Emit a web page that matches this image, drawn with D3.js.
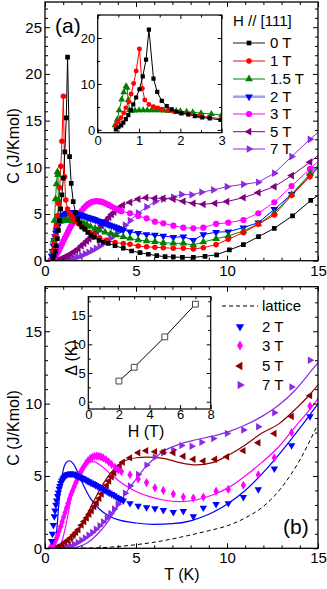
<!DOCTYPE html>
<html><head><meta charset="utf-8">
<script src="https://cdn.jsdelivr.net/npm/d3@7"></script>
<style>body{margin:0;background:#fff}svg{display:block}</style>
</head><body><svg id="c" width="327" height="589"></svg>
<script>
// ---------- DATA ----------
const T0=[0.44,0.50,0.57,0.62,0.68,0.74,0.80,0.86,0.93,1.01,1.09,1.17,1.24,1.35,1.44,1.55,1.67,1.79,1.91,2.03,2.19,2.35,2.53,2.71,2.97,3.2,3.48,3.85,4.3,4.76,5.22,5.68,6.14,6.6,7.05,7.55,8.15,8.79,9.43,10.13,10.9,11.73,12.6,13.6,14.6,15.5];
const C0=[0.14,0.58,1.0,1.58,2.37,3.24,4.3,5.54,7.05,8.85,11.65,15.3,21.8,11.15,8.27,6.33,5.18,4.46,3.96,3.6,3.38,3.02,2.73,2.52,2.16,2.0,1.86,1.6,1.33,1.04,0.86,0.69,0.54,0.43,0.4,0.36,0.36,0.47,0.63,1.15,1.72,2.57,3.47,4.8,6.45,7.7];
const T1=[0.44,0.50,0.56,0.63,0.68,0.75,0.81,0.87,0.93,1.01,1.08,1.14,1.24,1.35,1.45,1.55,1.7,1.85,2.0,2.2,2.45,2.7,3.0,3.4,3.85,4.3,4.67,5.12,5.58,6.04,6.5,7.05,7.6,8.15,8.7,9.4,10.07,10.9,11.72,12.6,13.55,14.56,15.5];
const C1=[1.08,1.8,2.66,3.7,4.8,6.1,7.8,10.1,12.8,17.6,9.0,6.5,5.54,5.04,4.8,4.5,4.2,3.95,3.7,3.4,3.05,2.75,2.45,2.2,1.95,1.83,1.75,1.57,1.5,1.43,1.39,1.33,1.33,1.25,1.39,1.72,2.3,3.0,3.9,4.9,7.0,9.0,11.0];
const T15=[0.42,0.47,0.52,0.58,0.63,0.685,0.71,0.74,0.77,0.82,0.9,1.0,1.1,1.2,1.3,1.4,1.5,1.6,1.7,1.8,1.9,2.0,2.15,2.3,2.5,2.75,3.0,3.3,3.6,3.9,4.3,4.67,5.12,5.58,6.04,6.5,7.05,7.6,8.15,8.7,9.4,10.07,10.9,11.72,12.6,13.55,14.56,15.5];
const C15=[1.0,2.2,4.3,6.6,8.2,9.5,9.2,6.5,4.3,4.2,4.25,4.3,4.3,4.3,4.3,4.3,4.3,4.25,4.2,4.15,4.1,4.05,3.95,3.85,3.65,3.45,3.25,3.05,2.9,2.75,2.55,2.39,2.22,2.11,2.04,1.93,1.86,1.86,1.68,2.0,2.35,2.65,3.18,3.92,5.1,7.1,9.3,11.3];
const T2=[0.37,0.41,0.46,0.51,0.55,0.6,0.64,0.69,0.73,0.78,0.82,0.87,0.92,0.98,1.04,1.11,1.19,1.26,1.34,1.41,1.47,1.54,1.61,1.7,1.78,1.87,1.96,2.05,2.14,2.24,2.33,2.42,2.51,2.6,2.69,2.78,2.88,2.97,3.06,3.18,3.3,3.42,3.53,3.66,3.79,3.91,4.03,4.17,4.3,4.67,5.12,5.58,6.04,6.5,7.05,7.6,8.15,8.7,9.4,10.07,10.9,11.72,12.6,13.55,14.56,15.5];
const C2=[0.5,1.0,1.6,2.2,2.6,3.0,3.3,3.6,3.85,4.1,4.3,4.5,4.65,4.8,4.9,5.0,5.08,5.12,5.15,5.16,5.15,5.14,5.11,5.06,5.0,4.95,4.9,4.85,4.79,4.72,4.65,4.6,4.54,4.48,4.43,4.36,4.29,4.23,4.18,4.09,4.0,3.92,3.83,3.74,3.65,3.56,3.47,3.38,3.29,3.11,2.93,2.82,2.75,2.64,2.5,2.57,2.2,2.8,3.05,3.11,3.54,4.07,5.5,7.11,9.11,11.0];
const T3=[0.3,0.38,0.46,0.54,0.62,0.7,0.78,0.86,0.94,1.02,1.1,1.18,1.26,1.34,1.42,1.5,1.6,1.7,1.8,1.9,2.0,2.12,2.24,2.36,2.48,2.6,2.72,2.84,2.96,3.08,3.2,3.35,3.5,3.66,3.85,4.03,4.2,4.67,5.12,5.58,6.04,6.5,7.05,7.6,8.15,8.7,9.4,10.07,10.9,11.72,12.6,13.55,14.56,15.5];
const C3=[0.05,0.12,0.25,0.42,0.65,0.9,1.2,1.5,1.82,2.15,2.45,2.78,3.1,3.4,3.7,3.95,4.25,4.55,4.82,5.08,5.32,5.6,5.85,6.05,6.2,6.3,6.36,6.38,6.36,6.32,6.25,6.12,5.97,5.8,5.6,5.42,5.3,5.08,4.79,4.54,4.18,4.0,3.75,3.54,3.47,3.54,3.95,4.07,4.36,5.08,6.26,8.0,9.83,11.5];
const T5=[0.5,0.65,0.8,0.95,1.1,1.25,1.4,1.56,1.7,1.83,2.0,2.15,2.29,2.43,2.56,2.7,2.84,2.98,3.11,3.25,3.39,3.52,3.66,3.8,3.94,4.1,4.27,4.67,5.12,5.55,6.04,6.5,7.05,7.6,8.15,8.7,9.34,10.0,10.9,11.72,12.6,13.55,14.56,15.5];
const C5=[0.02,0.07,0.15,0.27,0.41,0.55,0.72,0.92,1.1,1.28,1.6,1.85,2.1,2.35,2.6,2.88,3.15,3.45,3.75,4.05,4.35,4.65,4.95,5.2,5.45,5.7,5.95,6.25,6.6,6.75,6.68,6.68,6.6,6.36,6.15,6.04,6.15,6.33,6.75,7.29,7.93,9.11,10.55,12.1];
const T7=[0.8,1.0,1.2,1.4,1.6,1.8,2.0,2.2,2.4,2.6,2.8,3.0,3.2,3.4,3.6,3.8,4.0,4.17,4.4,4.67,5.12,5.58,6.04,6.5,7.05,7.5,8.06,8.6,9.25,10.0,10.9,11.72,12.6,13.55,14.56,15.5];
const C7=[0.02,0.05,0.1,0.18,0.28,0.4,0.55,0.72,0.9,1.1,1.32,1.56,1.82,2.1,2.4,2.72,3.05,3.4,3.8,4.3,5.1,5.75,6.3,6.6,6.8,7.1,7.05,7.33,7.58,7.93,8.18,8.4,9.37,11.15,13.0,14.6];

// fitted curves (panel b)
const fit2T=[0.45,0.55,0.65,0.75,0.87,1.0,1.15,1.35,1.55,1.8,2.1,2.5,3.0,3.5,4.0,5.0,6.0,7.0,8.0,9.0,10.0,11.0,12.0,13.0,14.0,15.0];
const fit2C=[0.0,0.15,1.3,2.9,4.4,5.4,5.9,6.05,5.85,5.25,4.4,3.45,2.7,2.25,1.98,1.75,1.66,1.7,1.9,2.35,3.05,4.0,5.25,6.7,8.3,10.0];
const fit3T=[0.6,0.82,1.0,1.19,1.47,1.74,2.02,2.29,2.66,3.02,3.57,4.12,4.67,5.22,5.8,6.5,7.4,8.3,9.2,10.1,11.0,11.9,12.85,13.75,14.6,15.2];
const fit3C=[0.0,0.15,0.8,1.84,3.68,4.95,5.64,5.94,5.99,5.76,5.18,4.6,4.15,3.8,3.55,3.34,3.22,3.34,3.68,4.21,5.0,5.92,7.02,8.4,9.67,10.7];
const fit5T=[0.8,1.2,1.56,2.11,2.66,3.21,3.75,4.3,5.04,5.58,6.5,7.4,8.3,9.2,10.1,11.0,11.9,12.85,13.75,14.6,15.2];
const fit5C=[0.0,0.15,0.69,1.84,3.22,4.49,5.41,5.99,6.26,6.3,6.22,5.92,5.76,5.92,6.45,7.14,7.95,8.6,9.6,10.7,11.6];
const fit7T=[1.3,1.8,2.29,2.84,3.39,3.94,4.49,5.04,5.5,6.0,6.5,7.4,8.3,9.2,10.1,11.0,11.9,12.85,13.65,14.9,15.2];
const fit7C=[0.0,0.1,0.35,0.92,1.73,2.76,3.91,4.84,5.6,6.2,6.7,7.2,7.5,7.75,8.06,8.52,9.1,9.9,10.8,12.67,13.1];
const latT=[0.5,1,2,3,4,5,6,7,8,9,10,11,12,13,14,15];
const latC=[0,0,0.01,0.04,0.12,0.25,0.42,0.65,0.92,1.22,1.55,2.1,2.9,4.2,6.1,8.6];

// inset (b): gap vs field
const insH=[2,3,5,7];
const insD=[3.6,6.0,11.3,17.0];

// ticks / labels
const mainXTicks=[0,5,10,15];
const mainYTicksA=[0,5,10,15,20,25];
const mainYTicksB=[0,5,10,15];
const insAXTicks=[0,1,2,3];
const insAYTicks=[0,10,20];
const insBXTicks=[0,2,4,6,8];
const insBYTicks=[0,5,10,15];
const legendA=["0 T","1 T","1.5 T","2 T","3 T","5 T","7 T"];
const legendB=["2 T","3 T","5 T","7 T"];

// ---------- DRAW ----------
const FONT='"Liberation Sans", Arial, Helvetica, sans-serif';
const svg=d3.select("#c");
svg.append("rect").attr("width",327).attr("height",589).attr("fill","#fff");
const zip=(a,b)=>a.map((v,i)=>[v,b[i]]);
const range=(a,b,s)=>d3.range(a,b+1e-9,s).map(v=>+v.toFixed(4));

function frame(g,x,y,o){
  const [xl,xr]=x.range(),[yb,yt]=y.range();
  const notIn=(arr,maj)=>arr.filter(v=>!maj.some(m=>Math.abs(m-v)<1e-6));
  const xMin=notIn(o.xMin,o.xMaj), yMin=notIn(o.yMin,o.yMaj);
  const mk=(fn,sc,vals,len,lab,tr,pad)=>{
    const a=fn(sc).tickValues(vals).tickSizeInner(-len).tickSizeOuter(0).tickPadding(pad||0)
      .tickFormat(lab?(d=>d):(()=>""));
    const gg=g.append("g").attr("transform",tr).call(a);
    gg.select(".domain").remove();
    gg.selectAll("line").attr("stroke","#000").attr("stroke-width",1);
    gg.selectAll("text").attr("font-size",o.fs).attr("font-family",FONT).attr("fill","#000");
    return gg;
  };
  mk(d3.axisBottom,x,o.xMaj,o.maj,true,`translate(0,${yb})`,o.xpad);
  mk(d3.axisBottom,x,xMin,o.min,false,`translate(0,${yb})`);
  mk(d3.axisTop,x,o.xMaj,o.maj,false,`translate(0,${yt})`);
  mk(d3.axisTop,x,xMin,o.min,false,`translate(0,${yt})`);
  mk(d3.axisLeft,y,o.yMaj,o.maj,true,`translate(${xl},0)`,o.ypad);
  mk(d3.axisLeft,y,yMin,o.min,false,`translate(${xl},0)`);
  mk(d3.axisRight,y,o.yMaj,o.maj,false,`translate(${xr},0)`);
  mk(d3.axisRight,y,yMin,o.min,false,`translate(${xr},0)`);
  g.append("rect").attr("x",xl).attr("y",yt).attr("width",xr-xl).attr("height",yb-yt)
    .attr("fill","none").attr("stroke","#000").attr("stroke-width",o.bw||1.3);
}
const rot={up:0,down:180,left:-90,right:90};
function marker(g,kind,size,color,px,py,fill){
  let p,r=0;
  if(kind==="sq")p=d3.symbol().type(d3.symbolSquare).size(size)();
  else if(kind==="ci")p=d3.symbol().type(d3.symbolCircle).size(size)();
  else if(kind==="dia")p=d3.symbol().type(d3.symbolDiamond).size(size)();
  else {p=d3.symbol().type(d3.symbolTriangle).size(size)();r=rot[kind];}
  g.append("path").attr("d",p).attr("transform",`translate(${px},${py}) rotate(${r})`)
    .attr("fill",fill||color).attr("stroke",fill?color:"none").attr("stroke-width",1);
}

// ===== Panel (a) =====
const xa=d3.scaleLinear().domain([0,15]).range([45,318]);
const ya=d3.scaleLinear().domain([0,27.7]).range([260.7,2]);
svg.append("clipPath").attr("id","clipA").append("rect").attr("x",45).attr("y",2).attr("width",273).attr("height",258.7);
const seriesA=[
  {t:T0,c:C0,col:"#000000",m:"sq",s:22},
  {t:T1,c:C1,col:"#ff0000",m:"ci",s:24},
  {t:T15,c:C15,col:"#008000",m:"up",s:26},
  {t:T2,c:C2,col:"#0000ff",m:"down",s:26},
  {t:T3,c:C3,col:"#ff00ff",m:"ci",s:30},
  {t:T5,c:C5,col:"#800080",m:"left",s:26},
  {t:T7,c:C7,col:"#8a2be2",m:"right",s:26}
];
const gA=svg.append("g").attr("clip-path","url(#clipA)");
const order=[6,5,4,3,2,1,0];
const lineA=d3.line().x(d=>xa(d[0])).y(d=>ya(d[1]));
order.forEach(i=>{
  const s=seriesA[i];
  gA.append("path").attr("d",lineA(zip(s.t,s.c))).attr("fill","none").attr("stroke",s.col).attr("stroke-width",1);
});
order.forEach(i=>{
  const s=seriesA[i];
  s.t.forEach((t,k)=>marker(gA,s.m,s.s,s.col,xa(t),ya(s.c[k])));
});
frame(svg.append("g"),xa,ya,{xMaj:mainXTicks,xMin:range(0,15,1),yMaj:mainYTicksA,yMin:range(0,27,1),maj:5,min:3,fs:15,xpad:5,ypad:3});
svg.append("text").attr("x",55).attr("y",33).attr("font-size",21).attr("font-family",FONT).text("(a)");

// inset (a)
const xi=d3.scaleLinear().domain([0,3]).range([97.7,221.7]);
const yi=d3.scaleLinear().domain([-0.6,25]).range([132.7,15]);
svg.append("rect").attr("x",97.7).attr("y",15).attr("width",124).attr("height",117.7).attr("fill","#fff");
svg.append("clipPath").attr("id","clipI").append("rect").attr("x",97.7).attr("y",15).attr("width",124).attr("height",117.7);
const gI=svg.append("g").attr("clip-path","url(#clipI)");
const lineI=d3.line().x(d=>xi(d[0])).y(d=>yi(d[1]));
[2,1,0].forEach(i=>{
  const s=seriesA[i];
  const pts=zip(s.t,s.c).filter(d=>d[0]<=3.6);
  gI.append("path").attr("d",lineI(pts)).attr("fill","none").attr("stroke",s.col).attr("stroke-width",1);
  pts.forEach(d=>marker(gI,s.m,s.s*0.8,s.col,xi(d[0]),yi(d[1])));
});
frame(svg.append("g"),xi,yi,{xMaj:insAXTicks,xMin:range(0,3,0.5),yMaj:insAYTicks,yMin:range(0,25,5),maj:4,min:2.5,fs:13,xpad:3,ypad:2.5,bw:1.2});

// legend (a)
const gL=svg.append("g").attr("font-family",FONT).attr("font-size",15);
gL.append("text").attr("x",233).attr("y",26).text("H // [111]");
const legY=[43,61,79,96.7,114,131.7,149];
seriesA.forEach((s,i)=>{
  const y=legY[i];
  let lc=s.col,lw=1;
  if(i===0){lc="#8c8c8c";lw=2;} if(i===3){lc="#9aa0ff";lw=2.5;}
  gL.append("line").attr("x1",233).attr("x2",265).attr("y1",y).attr("y2",y).attr("stroke",lc).attr("stroke-width",lw);
  marker(gL,s.m,s.s,s.col,249,y);
  gL.append("text").attr("x",270).attr("y",y).attr("dy","0.36em").text(legendA[i]);
});
svg.append("text").attr("transform","translate(19,146) rotate(-90)").attr("text-anchor","middle")
  .attr("font-family",FONT).attr("font-size",16).text("C (J/Kmol)");

// ===== Panel (b) =====
const xb=d3.scaleLinear().domain([0,15]).range([45,318]);
const yb=d3.scaleLinear().domain([0,18.08]).range([548.3,286.7]);
svg.append("clipPath").attr("id","clipB").append("rect").attr("x",45).attr("y",286.7).attr("width",273).attr("height",261.6);
const gB=svg.append("g").attr("clip-path","url(#clipB)");
const lineB=d3.line().x(d=>xb(d[0])).y(d=>yb(d[1])).curve(d3.curveMonotoneX);
gB.append("path").attr("d",lineB(zip(latT,latC))).attr("fill","none").attr("stroke","#000").attr("stroke-width",1).attr("stroke-dasharray","4,3");
const seriesB=[
  {t:T2,c:C2,ft:fit2T,fc:fit2C,col:"#0000ff",m:"down",s:24},
  {t:T3,c:C3,ft:fit3T,fc:fit3C,col:"#ff00ff",m:"dia",s:24},
  {t:T5,c:C5,ft:fit5T,fc:fit5C,col:"#8b0000",m:"left",s:24},
  {t:T7,c:C7,ft:fit7T,fc:fit7C,col:"#8a2be2",m:"right",s:24}
];
seriesB.forEach(s=>{
  gB.append("path").attr("d",lineB(zip(s.ft,s.fc))).attr("fill","none").attr("stroke",s.col).attr("stroke-width",1.2);
});
seriesB.slice().reverse().forEach(s=>{
  s.t.forEach((t,k)=>marker(gB,s.m,s.s,s.col,xb(t),yb(s.c[k])));
});
frame(svg.append("g"),xb,yb,{xMaj:mainXTicks,xMin:range(0,15,1),yMaj:mainYTicksB,yMin:range(0,18,1),maj:5,min:3,fs:15,xpad:4.5,ypad:3});
svg.append("text").attr("x",283).attr("y",534).attr("font-size",21).attr("font-family",FONT).text("(b)");

// inset (b)
const xh=d3.scaleLinear().domain([0,8]).range([88.3,210.7]);
const yh=d3.scaleLinear().domain([-1.27,18.3]).range([409,296.7]);
svg.append("rect").attr("x",88.3).attr("y",296.7).attr("width",122.4).attr("height",112.3).attr("fill","#fff");
const gH=svg.append("g");
gH.append("path").attr("d",d3.line().x(d=>xh(d[0])).y(d=>yh(d[1]))(zip(insH,insD))).attr("fill","none").attr("stroke","#000").attr("stroke-width",1);
insH.forEach((h,k)=>marker(gH,"sq",34,"#444",xh(h),yh(insD[k]),"#fff"));
frame(svg.append("g"),xh,yh,{xMaj:insBXTicks,xMin:range(0,8,1),yMaj:insBYTicks,yMin:range(0,17.5,2.5),maj:4,min:2.5,fs:13,xpad:1,ypad:2.5,bw:1.2});
svg.append("text").attr("transform","translate(77,358) rotate(-90)").attr("text-anchor","middle")
  .attr("font-family",FONT).attr("font-size",16).text("Δ (K)");
svg.append("text").attr("x",146).attr("y",437).attr("text-anchor","middle")
  .attr("font-family",FONT).attr("font-size",16).text("H (T)");

// legend (b)
const gLB=svg.append("g").attr("font-family",FONT).attr("font-size",15);
gLB.append("line").attr("x1",222).attr("x2",258).attr("y1",306).attr("y2",306).attr("stroke","#000").attr("stroke-dasharray","4,3");
gLB.append("text").attr("x",262).attr("y",306).attr("dy","0.36em").text("lattice");
const legYB=[326.7,345.5,366,385];
seriesB.forEach((s,i)=>{
  marker(gLB,s.m,30,s.col,240,legYB[i]);
  gLB.append("text").attr("x",262).attr("y",legYB[i]).attr("dy","0.36em").text(legendB[i]);
});
svg.append("text").attr("transform","translate(19,428) rotate(-90)").attr("text-anchor","middle")
  .attr("font-family",FONT).attr("font-size",16).text("C (J/Kmol)");
svg.append("text").attr("x",182).attr("y",580).attr("text-anchor","middle")
  .attr("font-family",FONT).attr("font-size",16).text("T (K)");
</script></body></html>
